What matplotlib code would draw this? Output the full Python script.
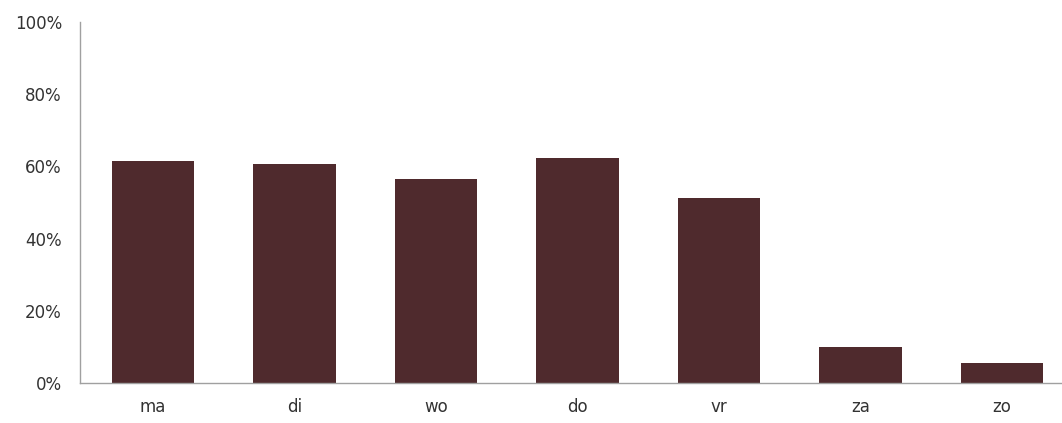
import matplotlib
matplotlib.use("Agg")
import matplotlib.pyplot as plt
from matplotlib.ticker import FuncFormatter

categories = ["ma", "di", "wo", "do", "vr", "za", "zo"]
values = [61.6, 60.7, 56.5, 62.3, 51.2, 10.1, 5.5]
yticks = [0, 20, 40, 60, 80, 100]

W, H = 1062, 423
fig = plt.figure(figsize=(W / 100, H / 100), dpi=100)
ax = fig.add_axes([80 / W, 40 / H, (W - 80) / W, 361 / H])

x = range(len(categories))
ax.bar(x, values, width=0.58, color="#4f2a2d", zorder=2)

ax.set_xlim(-0.516, 6.424)
ax.set_ylim(0, 100)
ax.set_yticks(yticks)
ax.yaxis.set_major_formatter(FuncFormatter(lambda v, p: f"{int(v)}%"))
ax.set_xticks(list(x))
ax.set_xticklabels(categories)

for s in ["top", "right"]:
    ax.spines[s].set_visible(False)
for s in ["left", "bottom"]:
    ax.spines[s].set_color("#a0a0a0")
    ax.spines[s].set_linewidth(1.0)

ax.tick_params(axis="both", length=0, labelsize=12, colors="#333333")
ax.tick_params(axis="y", pad=13)
ax.tick_params(axis="x", pad=11)

fig.savefig("out.png", dpi=100)
